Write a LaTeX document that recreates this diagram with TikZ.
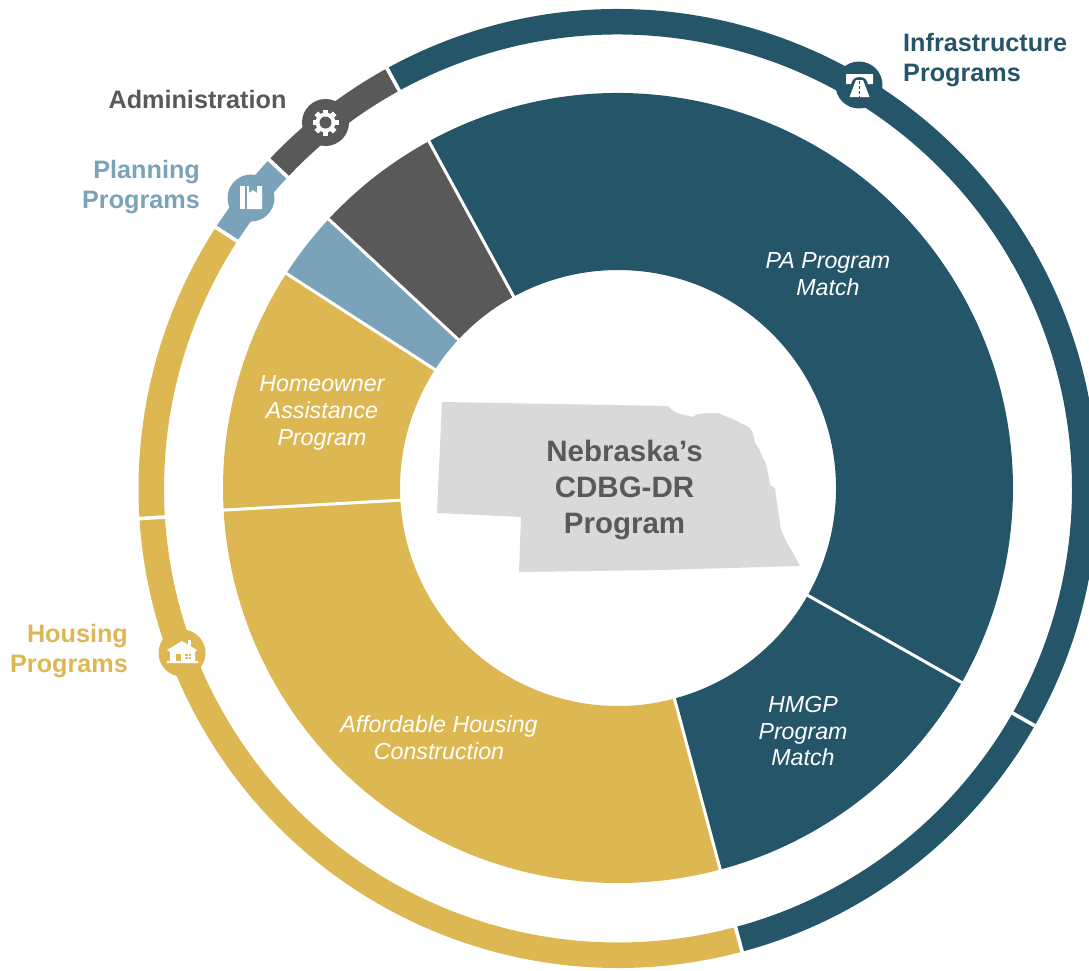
\documentclass[tikz,border=0pt]{standalone}
\usepackage{fontspec}
\setmainfont{Liberation Sans}
\definecolor{teal}{RGB}{37,85,105}
\definecolor{gold}{RGB}{221,184,82}
\definecolor{sky}{RGB}{122,163,186}
\definecolor{slate}{RGB}{89,89,89}
\definecolor{stategray}{RGB}{217,217,217}
\newcommand\ringsector[5]{\fill[#1] (#2:#4) arc[start angle=#2,end angle=#3,radius=#4] -- (#3:#5) arc[start angle=#3,end angle=#2,radius=#5] -- cycle;}
\tikzset{
  wedgelabel/.style={text=white,align=center,inner sep=0pt,font=\fontsize{23.2}{26.7}\selectfont\itshape},
  ringlabel/.style={inner sep=0pt,font=\fontsize{25.2}{30}\selectfont\bfseries},
  gap/.style={draw=white,line width=3pt},
  ringgap/.style={draw=white,line width=3.6pt}
}
\begin{document}
\begin{tikzpicture}[x=1pt,y=-1pt]
\useasboundingbox (0,0) rectangle (1089,970);
\clip (0,0) rectangle (1089,970);
\fill[white] (0,0) rectangle (1089,970);
% inner donut
\begin{scope}[shift={(618,488)}]
\ringsector{teal}{241.4}{389.5}{395}{218}
\ringsector{teal}{29.5}{75}{395}{218}
\ringsector{gold}{75}{176.8}{395}{218}
\ringsector{gold}{176.8}{212.9}{395}{218}
\ringsector{sky}{212.9}{222.9}{395}{218}
\ringsector{slate}{222.9}{241.4}{395}{218}
\foreach \a in {241.4,29.5,75,176.8,212.9,222.9}{\draw[gap] (\a:215) -- (\a:398);}
\end{scope}
% outer ring
\begin{scope}[shift={(618,488.5)}]
\ringsector{teal}{241.2}{330.3}{479.5}{454}
\ringsector{teal}{-30.3}{75}{479.5}{454}
\ringsector{gold}{75}{176.4}{479.5}{454}
\ringsector{gold}{176.4}{213}{479.5}{454}
\ringsector{sky}{213}{223.3}{479.5}{454}
\ringsector{slate}{223.3}{241.2}{479.5}{454}
\foreach \a in {241.2,29.65,75,176.4,213,223.3}{\draw[ringgap] (\a:450) -- (\a:484);}
\end{scope}
% badges
\fill[teal] (859,85) circle (23.5);
\fill[slate] (325.5,122.5) circle (23.5);
\fill[sky] (251,198) circle (23.5);
\fill[gold] (182,653) circle (23.5);
% gear icon
\fill[white] (325.5,122.5) circle (10);
\foreach \a in {0,45,...,315}{\fill[white,shift={(325.5,122.5)},rotate=\a] (-2.6,-13) rectangle (2.6,-8);}
\fill[slate] (325.5,122.5) circle (6);
% book icon
\fill[white] (240,186) rectangle (245,209);
\fill[white] (247,186) -- (249,186) -- (249,193) -- (253,190) -- (257,193) -- (257,186) -- (262,186) -- (262,209) -- (247,209) -- cycle;
% road icon
\fill[white] (846,74) -- (873,74) -- (873,84) -- (868,84) .. controls (867,79) and (864,77) .. (859.5,77) .. controls (855,77) and (852,79) .. (851,84) -- (846,84) -- cycle;
\fill[white] (856,80) -- (863,80) -- (869.5,97) -- (849.5,97) -- cycle;
\draw[teal,line width=1.5pt,dash pattern=on 2.5pt off 2.5pt] (859.5,81) -- (859.5,97);
% house icon
\fill[white] (188,640) rectangle (191,647);
\fill[white] (182,641) -- (197,650) -- (195,652) -- (195,661) -- (198,661) -- (198,663) -- (167,663) -- (167,661) -- (170,661) -- (170,652) -- (167,650) -- cycle;
\fill[gold] (176,654) rectangle (181,661);
\fill[gold] (185,654) rectangle (191,659);
\draw[white,line width=0.8pt] (188,654) -- (188,659) (185,656.5) -- (191,656.5);
% Nebraska
\fill[stategray] (442,402) -- (668,406) -- (672,410) -- (677,413) -- (685,415) -- (692,417) -- (698,414) -- (708,413) -- (718,413) -- (725,416) -- (733,419) -- (740,423) -- (745,425) -- (750,428) -- (753,433) -- (755,443) -- (759,449) -- (763,458) -- (766,464) -- (768,473) -- (770,485) -- (775,488) -- (777,503) -- (779,516) -- (781,530) -- (787,543) -- (793,553) -- (800,566) -- (660,570) -- (519,572) -- (521,517) -- (437,513) -- cycle;
% labels
\node[ringlabel,text=slate] (admin) at (197.5,99.5) {Administration};
\node[ringlabel,text=sky,anchor=east,align=right] (plan) at (200,187) {Planning\\Programs};
\node[ringlabel,text=gold,anchor=east,align=right] (house) at (128,651) {Housing\\Programs};
\node[ringlabel,text=teal,anchor=west,align=left] (infra) at (903,60) {Infrastructure\\Programs};
\node[inner sep=0pt,align=center,text=slate,font=\fontsize{29.5}{36}\selectfont\bfseries] (core) at (624.5,490) {Nebraska’s\\CDBG-DR\\Program};
\node[wedgelabel] (pa) at (828,274) {PA Program\\Match};
\node[wedgelabel] (hmgp) at (803,731) {HMGP\\Program\\Match};
\node[wedgelabel] (afford) at (439,738) {Affordable Housing\\Construction};
\node[wedgelabel] (home) at (322,413) {Homeowner\\Assistance\\Program};
\end{tikzpicture}
\end{document}
